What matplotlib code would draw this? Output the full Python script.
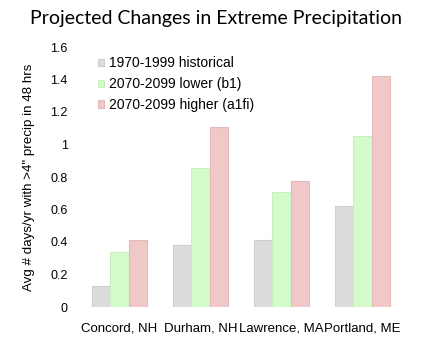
import numpy as np
import matplotlib
matplotlib.use("Agg")
import matplotlib.pyplot as plt

# data
cities = ["Concord, NH", "Durham, NH", "Lawrence, MA", "Portland, ME"]
historical = [0.13, 0.38, 0.41, 0.62]
lower_b1 = [0.34, 0.855, 0.71, 1.05]
higher_a1fi = [0.41, 1.11, 0.775, 1.42]
series_names = ["1970-1999 historical", "2070-2099 lower (b1)", "2070-2099 higher (a1fi)"]
y_ticks = [0, 0.2, 0.4, 0.6, 0.8, 1, 1.2, 1.4, 1.6]
y_tick_labels = ["0", "0.2", "0.4", "0.6", "0.8", "1", "1.2", "1.4", "1.6"]

colors = ["#dcdcdc", "#d5fbca", "#f0c8c8"]
edges = ["#cfcfcf", "#c8efbd", "#e4baba"]

plt.rcParams["font.family"] = ["Liberation Sans", "DejaVu Sans"]

fig = plt.figure(figsize=(4.32, 3.52), dpi=100)
ax = fig.add_axes([79 / 432, 45 / 352, (403 - 79) / 432, (307 - 47) / 352])

x = np.arange(len(cities))
w = 0.228
for i, vals in enumerate([historical, lower_b1, higher_a1fi]):
    ax.bar(x + (i - 1) * w, vals, width=w, color=colors[i], edgecolor=edges[i],
           linewidth=0.8, label=series_names[i])

ax.set_xlim(-0.5, len(cities) - 0.5)
ax.set_ylim(0, 1.6)
ax.set_yticks(y_ticks)
ax.set_yticklabels(y_tick_labels, fontsize=9)
ax.set_xticks(x)
ax.set_xticklabels(cities, fontsize=9.5)
ax.tick_params(length=0)
ax.tick_params(axis="x", pad=11)
ax.tick_params(axis="y", pad=8)
for s in ax.spines.values():
    s.set_visible(False)

ax.set_ylabel('Avg # days/yr with >4" precip in 48 hrs', fontsize=9.6, labelpad=11)

leg = ax.legend(loc="upper left", bbox_to_anchor=(0.04, 0.985), frameon=False,
                fontsize=10, handlelength=0.5, handleheight=0.5,
                handletextpad=0.3, labelspacing=0.5, borderaxespad=0)

fig.text(0.5, 0.948, "Projected Changes in Extreme Precipitation", ha="center",
         va="center", fontsize=14, family=["Lato", "DejaVu Sans"])

fig.savefig("out.png", dpi=100)
